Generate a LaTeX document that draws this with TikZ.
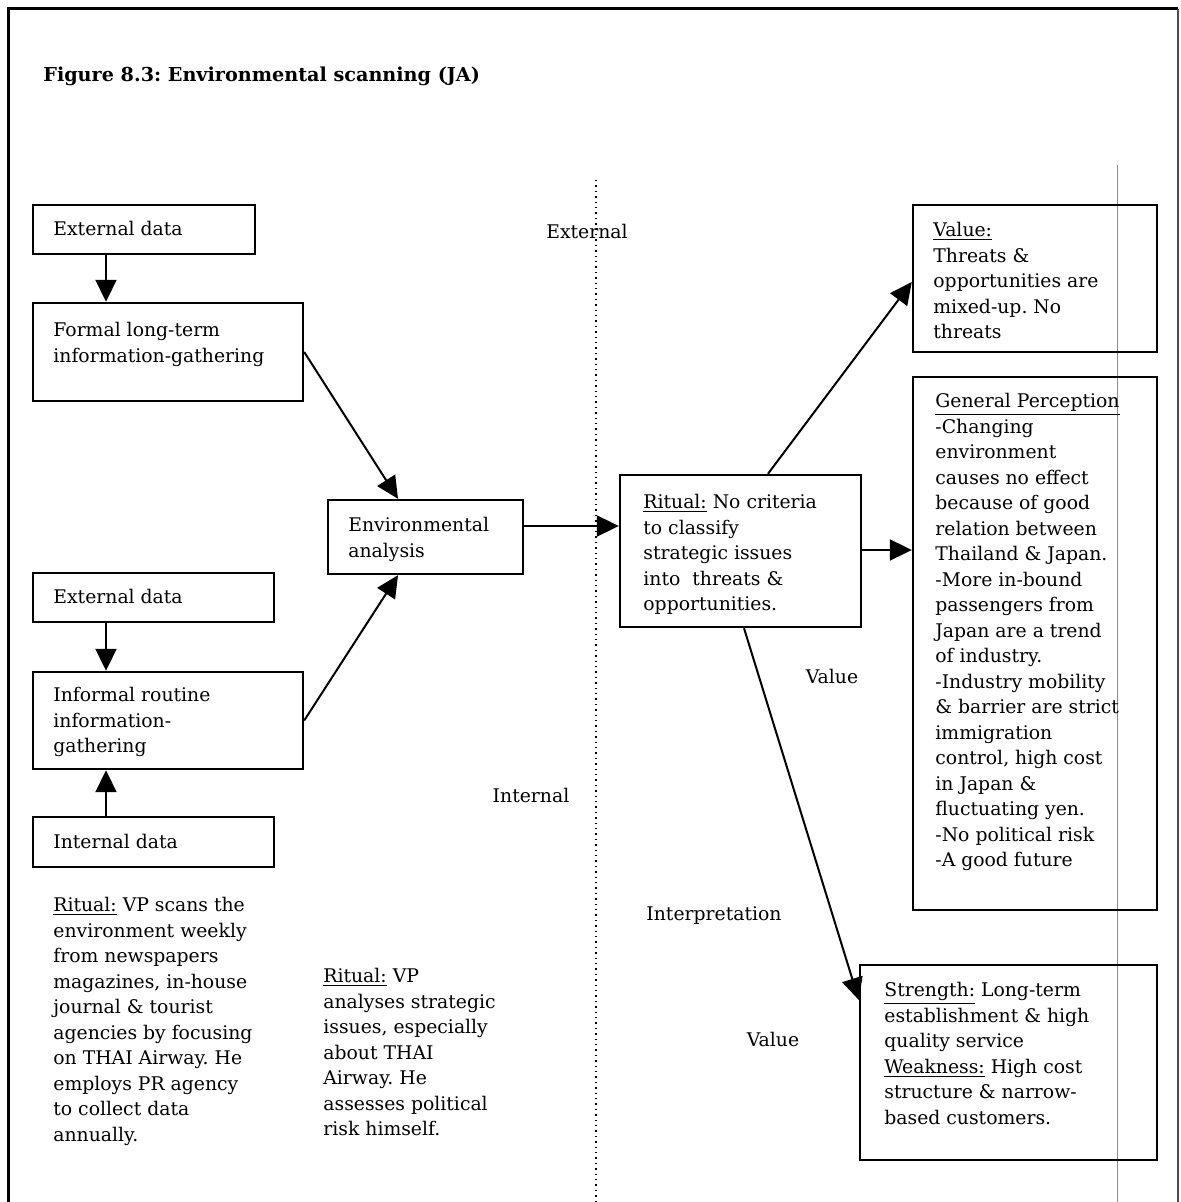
\documentclass[tikz,border=0pt]{standalone}
\usepackage{fontspec}
\setmainfont{DejaVu Serif}
\usetikzlibrary{arrows.meta,fit}
\newcommand\bodyfont{\fontsize{9.4}{12.75}\selectfont}
\newcommand\titlefont{\fontsize{9.6}{12}\selectfont\bfseries}
\frenchspacing
\begin{document}
\begin{tikzpicture}[x=0.5pt,y=-0.5pt,
  box/.style={draw,line width=1.2pt,inner sep=0pt},
  txt/.style={inner sep=0pt,anchor=north west,align=left,font=\bodyfont},
  lbl/.style={inner sep=0pt,font=\bodyfont},
  arr/.style={line width=1pt,-{Triangle[length=11pt,width=10.5pt]}}]
\useasboundingbox (0,0) rectangle (1180,1202);

% outer frame (open at the bottom)
\draw[line width=1.5pt] (8,1202) -- (8,9) -- (1178,9);
\draw[line width=0.6pt,black!70] (1178,9) -- (1178,1202);
% faint rule on the right
\draw[line width=0.4pt,black!45] (1117,165) -- (1117,1202);
% divider between external and internal side
\draw[dotted,line width=0.7pt] (596,180) -- (596,1202);

% title
\node[inner sep=0pt,anchor=base west,font=\titlefont] (title) at (43,82)
  {Figure 8.3: Environmental scanning (JA)};

% boxes
\node[box,fit={(33,205)(255,254)}] (ext1) {};
\node[box,fit={(33,303)(303,401)}] (formal) {};
\node[box,fit={(33,573)(274,622)}] (ext2) {};
\node[box,fit={(33,672)(303,769)}] (informal) {};
\node[box,fit={(33,817)(274,867)}] (internal) {};
\node[box,fit={(328,500)(523,574)}] (envan) {};
\node[box,fit={(620,475)(861,627)}] (ritual) {};
\node[box,fit={(913,205)(1157,352)}] (valbox) {};
\node[box,fit={(913,377)(1157,910)}] (gp) {};
\node[box,fit={(860,965)(1157,1160)}] (strength) {};

% box texts
\node[lbl,anchor=base west] (t1) at (53,236) {External data};
\node[txt] (t2) at (53,322) {Formal long-term\\information-gathering};
\node[lbl,anchor=base west] (t3) at (53,603) {External data};
\node[txt] (t4) at (53,687) {Informal routine\\information-\\gathering};
\node[lbl,anchor=base west] (t5) at (53,848) {Internal data};
\node[txt] (t6) at (348,517) {Environmental\\analysis};
\node[txt] (t7) at (643,494) {\underline{Ritual:} No criteria\\to classify\\strategic issues\\into\ \ threats \&\\opportunities.};
\node[txt] (t8) at (933,222) {\underline{Value:}\\Threats \&\\opportunities are\\mixed-up. No\\threats};
\node[txt] (t9) at (935,393) {\underline{General Perception}\\-Changing\\environment\\causes no effect\\because of good\\relation between\\Thailand \& Japan.\\-More in-bound\\passengers from\\Japan are a trend\\of industry.\\-Industry mobility\\\& barrier are strict\\immigration\\control, high cost\\in Japan \&\\fluctuating yen.\\-No political risk\\-A good future};
\node[txt] (t10) at (884,982) {\underline{Strength:} Long-term\\establishment \& high\\quality service\\\underline{Weakness:} High cost\\structure \& narrow-\\based customers.};

% free texts
\node[txt] (t11) at (53,897) {\underline{Ritual:} VP scans the\\environment weekly\\from newspapers\\magazines, in-house\\journal \& tourist\\agencies by focusing\\on THAI Airway. He\\employs PR agency\\to collect data\\annually.};
\node[txt] (t12) at (323,968) {\underline{Ritual:} VP\\analyses strategic\\issues, especially\\about THAI\\Airway. He\\assesses political\\risk himself.};

% region labels
\node[lbl] (lext) at (587,231) {External};
\node[lbl] (lint) at (531,795) {Internal};
\node[lbl] (lval1) at (832,676) {Value};
\node[lbl] (linterp) at (714,916) {Interpretation};
\node[lbl] (lval2) at (773,1039) {Value};

% helper coordinates for connector positions
\coordinate (cx) at (106,0);
\coordinate (ex) at (398,0);
\coordinate (ey) at (0,526);
\coordinate (vx) at (768,0);
\coordinate (vy) at (0,282);
\coordinate (gy) at (0,550);
\coordinate (sx) at (744,0);
\coordinate (sy) at (0,1000);

% connectors
\draw[arr] (ext1.south -| cx) -- (formal.north -| cx);
\draw[arr] (ext2.south -| cx) -- (informal.north -| cx);
\draw[arr] (internal.north -| cx) -- (informal.south -| cx);
\draw[arr] (formal.east) -- (envan.north -| ex);
\draw[arr] (informal.east) -- (envan.south -| ex);
\draw[arr] (envan.east |- ey) -- (ritual.west |- ey);
\draw[arr] (ritual.north -| vx) -- (valbox.west |- vy);
\draw[arr] (ritual.east |- gy) -- (gp.west |- gy);
\draw[arr] (ritual.south -| sx) -- (strength.west |- sy);
\end{tikzpicture}
\end{document}
